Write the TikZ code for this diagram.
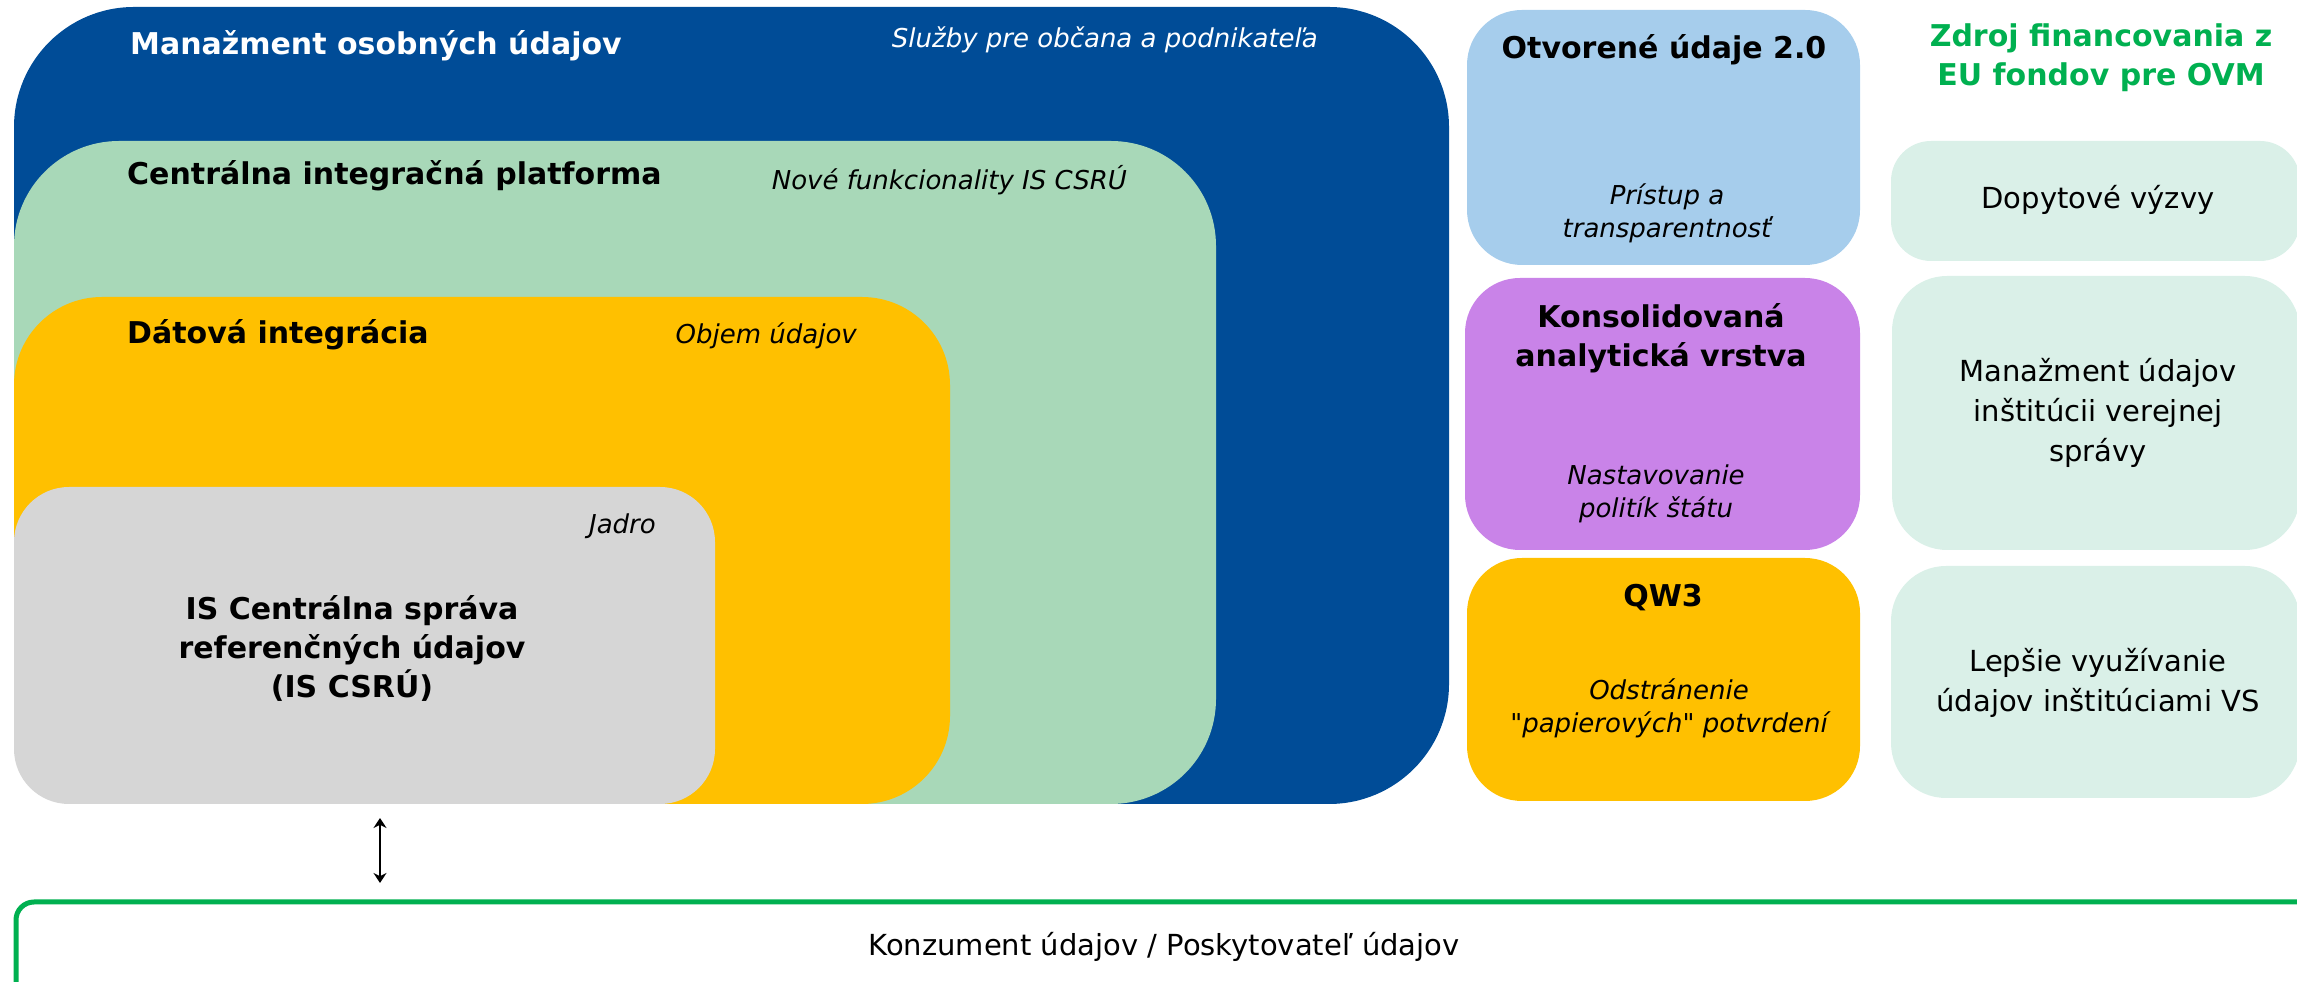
\documentclass[tikz,border=0pt]{standalone}
\usepackage{fontspec}
\setmainfont{DejaVu Sans}[Ligatures=TeXOff]
\usetikzlibrary{arrows.meta}
\definecolor{bluec}{RGB}{0,76,151}
\definecolor{greenc}{RGB}{168,216,184}
\definecolor{yelc}{RGB}{255,192,0}
\definecolor{greyc}{RGB}{214,214,214}
\definecolor{lbluec}{RGB}{166,205,236}
\definecolor{purc}{RGB}{201,131,232}
\definecolor{mintc}{RGB}{218,240,232}
\definecolor{eugreen}{RGB}{0,176,80}
\tikzset{
  panel/.style={rectangle, draw=none, inner sep=0pt, outer sep=0pt},
  hb/.style={font=\fontsize{30}{39}\selectfont\bfseries, inner sep=0pt, align=center},
  itx/.style={font=\fontsize{26}{33}\selectfont\itshape, inner sep=0pt, align=center},
  rg/.style={font=\fontsize{29}{40}\selectfont, inner sep=0pt, align=center},
}
\begin{document}
\begin{tikzpicture}[x=1pt,y=1pt]
\useasboundingbox (0,0) rectangle (2297,982);
\clip (0,0) rectangle (2297,982);
% nested panels
\node[panel, fill=bluec, rounded corners=120pt, minimum width=1435pt, minimum height=797pt] (pbl) at (731.5,576.5) {};
\node[panel, fill=greenc, rounded corners=105pt, minimum width=1202pt, minimum height=663pt] (pgr) at (615,509.5) {};
\node[panel, fill=yelc, rounded corners=88pt, minimum width=936pt, minimum height=507pt] (pye) at (482,431.5) {};
\node[panel, fill=greyc, rounded corners=55pt, minimum width=701pt, minimum height=317pt] (pgy) at (364.5,336.5) {};
% right column
\node[panel, fill=lbluec, rounded corners=55pt, minimum width=393pt, minimum height=255pt] (pod) at (1663.5,844.5) {};
\node[panel, fill=purc, rounded corners=55pt, minimum width=395pt, minimum height=272pt] (pkav) at (1662.5,568) {};
\node[panel, fill=yelc, rounded corners=55pt, minimum width=393pt, minimum height=243pt] (pqw) at (1663.5,302.5) {};
\node[panel, fill=mintc, rounded corners=40pt, minimum width=409pt, minimum height=120pt] (pm1) at (2095.5,781) {};
\node[panel, fill=mintc, rounded corners=55pt, minimum width=408pt, minimum height=274pt] (pm2) at (2096,569) {};
\node[panel, fill=mintc, rounded corners=55pt, minimum width=409pt, minimum height=232pt] (pm3) at (2095.5,300) {};
% bottom box
\node[panel, draw=eugreen, line width=5pt, rounded corners=18pt, minimum width=2314pt, minimum height=120pt] (pbot) at (1173,20) {};
% texts
\node[hb, text=white, anchor=base west] (t1) at (130,927) {Manažment osobných údajov};
\node[itx, text=white, anchor=base east] (t1i) at (1318,934) {Služby pre občana a podnikateľa};
\node[hb, anchor=base west] (t2) at (127,797) {Centrálna integračná platforma};
\node[itx, anchor=base east] (t2i) at (1127,792) {Nové funkcionality IS CSRÚ};
\node[hb, anchor=base west] (t3) at (127,638) {Dátová integrácia};
\node[itx, anchor=base east] (t3i) at (857,638) {Objem údajov};
\node[itx, anchor=base east] (t4i) at (656,448) {Jadro};
\node[hb] (t4) at (352,334) {IS Centrálna správa\\referenčných údajov\\(IS CSRÚ)};
\node[hb] (t5) at (1664,932) {Otvorené údaje 2.0};
\node[itx] (t5i) at (1667,769) {Prístup a\\transparentnosť};
\node[hb] (t6) at (1661,644) {Konsolidovaná\\analytická vrstva};
\node[itx] (t6i) at (1656,488) {Nastavovanie\\politík štátu};
\node[hb] (t7) at (1663,384) {QW3};
\node[itx] (t7i) at (1669,274) {Odstránenie\\"papierových" potvrdení};
\node[hb, text=eugreen] (t8) at (2101,924) {Zdroj financovania z\\EU fondov pre OVM};
\node[rg] (m1) at (2098,782) {Dopytové výzvy};
\node[rg] (m2) at (2098,569) {Manažment údajov\\inštitúcii verejnej\\správy};
\node[rg] (m3) at (2098,299) {Lepšie využívanie\\údajov inštitúciami VS};
\node[rg] (bt) at (1164,35) {Konzument údajov / Poskytovateľ údajov};
% arrow
\coordinate (a1) at (380,164);
\coordinate (a2) at (380,99);
\draw[{Stealth[length=10pt,width=13pt]}-{Stealth[length=10pt,width=13pt]}, line width=2.5pt] (a1) -- (a2);
\end{tikzpicture}
\end{document}
